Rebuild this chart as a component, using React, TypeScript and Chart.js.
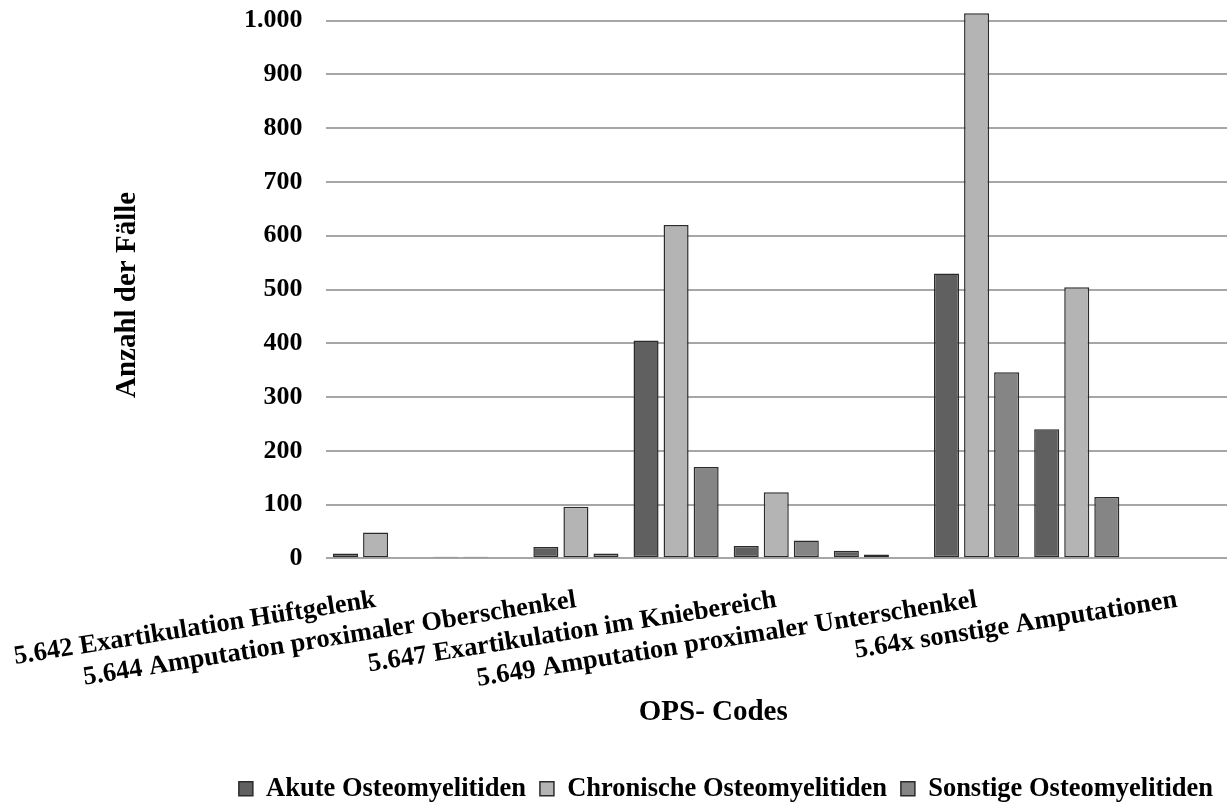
import { useEffect, useRef } from 'react';
import { Chart, registerables } from 'chart.js';

Chart.register(...registerables);

// OPS codes (every other one is labelled on the axis)
const categories = [
  '5.642 Exartikulation Hüftgelenk',
  '5.643 Oberschenkelamputation n.n.bez.',
  '5.644 Amputation proximaler Oberschenkel',
  '5.645 Amputation mittlerer oder distaler Oberschenkel',
  '5.647 Exartikulation im Kniebereich',
  '5.648 Unterschenkelamputation n.n.bez.',
  '5.649 Amputation proximaler Unterschenkel',
  '5.64a Amputation mittlerer Unterschenkel',
  '5.64x sonstige Amputationen',
];

const seriesNames = [
  'Akute Osteomyelitiden',
  'Chronische Osteomyelitiden',
  'Sonstige Osteomyelitiden',
];

const akute = [9, 3, 21, 405, 23, 14, 530, 240, 0];
const chronische = [48, 3, 96, 620, 123, 7, 1014, 504, 0];
const sonstige = [0, 0, 9, 170, 33, 2, 346, 114, 2];

const yTickValues = [0, 100, 200, 300, 400, 500, 600, 700, 800, 900, 1000];

const yAxisTitle = 'Anzahl der Fälle';
const xAxisTitle = 'OPS- Codes';

const FONT = "'Liberation Serif', 'Times New Roman', serif";
const BORDER = '#2b2b2b';

function formatThousands(v: number): string {
  return String(v).replace(/\B(?=(\d{3})+(?!\d))/g, '.');
}

// Scales should not push the plot area inwards for their outer labels
function clearScalePadding(scale: any) {
  scale.paddingLeft = 0;
  scale.paddingRight = 0;
  scale.paddingTop = 0;
  scale.paddingBottom = 0;
}

// Draws both axis titles, placed relative to the plot area
const axisTitlesPlugin = {
  id: 'axisTitles',
  afterDraw(chart: any) {
    const { ctx, chartArea, scales } = chart;
    const midX = (chartArea.left + chartArea.right) / 2;
    const midY = (chartArea.top + chartArea.bottom) / 2;
    ctx.save();
    ctx.font = `bold 29px ${FONT}`;
    ctx.fillStyle = '#000';
    ctx.textAlign = 'center';
    ctx.textBaseline = 'middle';
    ctx.fillText(xAxisTitle, midX - 63, scales.x.bottom - 48.5);
    ctx.translate(chartArea.left - 197.5, midY + 13.5);
    ctx.rotate(-Math.PI / 2);
    ctx.fillText(yAxisTitle, 0, 0);
    ctx.restore();
  },
};

export default function App() {
  const canvasRef = useRef<HTMLCanvasElement>(null);

  useEffect(() => {
    const canvas = canvasRef.current;
    if (!canvas) return;

    const barStyle = {
      borderColor: BORDER,
      borderWidth: 1.5,
      borderSkipped: false as const,
      categoryPercentage: 0.9,
      barPercentage: 0.833,
    };

    const chart = new Chart(canvas, {
      type: 'bar',
      data: {
        labels: categories,
        datasets: [
          { label: seriesNames[0], data: akute, backgroundColor: '#606060', ...barStyle },
          { label: seriesNames[1], data: chronische, backgroundColor: '#b4b4b4', ...barStyle },
          { label: seriesNames[2], data: sonstige, backgroundColor: '#858585', ...barStyle },
        ],
      },
      options: {
        responsive: false,
        animation: false,
        layout: { padding: { top: 4.6, left: 0, right: 0, bottom: 0 } },
        font: { family: FONT },
        plugins: {
          tooltip: { enabled: false },
          legend: {
            position: 'bottom',
            align: 'end',
            labels: {
              color: '#000',
              font: { family: FONT, size: 26.5, weight: 'bold' },
              boxWidth: 14,
              boxHeight: 14,
              padding: 14,
            },
          },
        },
        scales: {
          x: {
            grid: { display: false },
            border: { display: false },
            ticks: {
              autoSkip: false,
              minRotation: 9,
              maxRotation: 9,
              padding: 18,
              color: '#000',
              font: { family: FONT, size: 26.5, weight: 'bold' },
              callback: (_v: any, i: number) => (i % 2 === 0 ? categories[i] : ''),
            },
            afterFit: (scale: any) => {
              scale.height = 203.2;
              clearScalePadding(scale);
            },
          },
          y: {
            min: 0,
            max: 1030,
            border: { display: false },
            grid: { color: '#a6a6a6', lineWidth: 2, drawTicks: false },
            afterBuildTicks: (scale: any) => {
              scale.ticks = yTickValues.map((v) => ({ value: v }));
            },
            ticks: {
              padding: 23,
              color: '#000',
              font: { family: FONT, size: 26, weight: 'bold' },
              callback: (v: any) => formatThousands(Number(v)),
            },
            afterFit: (scale: any) => {
              scale.width = 325.5;
              clearScalePadding(scale);
            },
          },
        },
      },
      plugins: [axisTitlesPlugin],
    });

    return () => chart.destroy();
  }, []);

  return (
    <div
      style={{
        position: 'fixed',
        left: 0,
        top: 0,
        width: 1227,
        height: 802,
        overflow: 'hidden',
        background: '#fff',
      }}
    >
      <canvas ref={canvasRef} width={1227} height={812} style={{ display: 'block' }} />
    </div>
  );
}
